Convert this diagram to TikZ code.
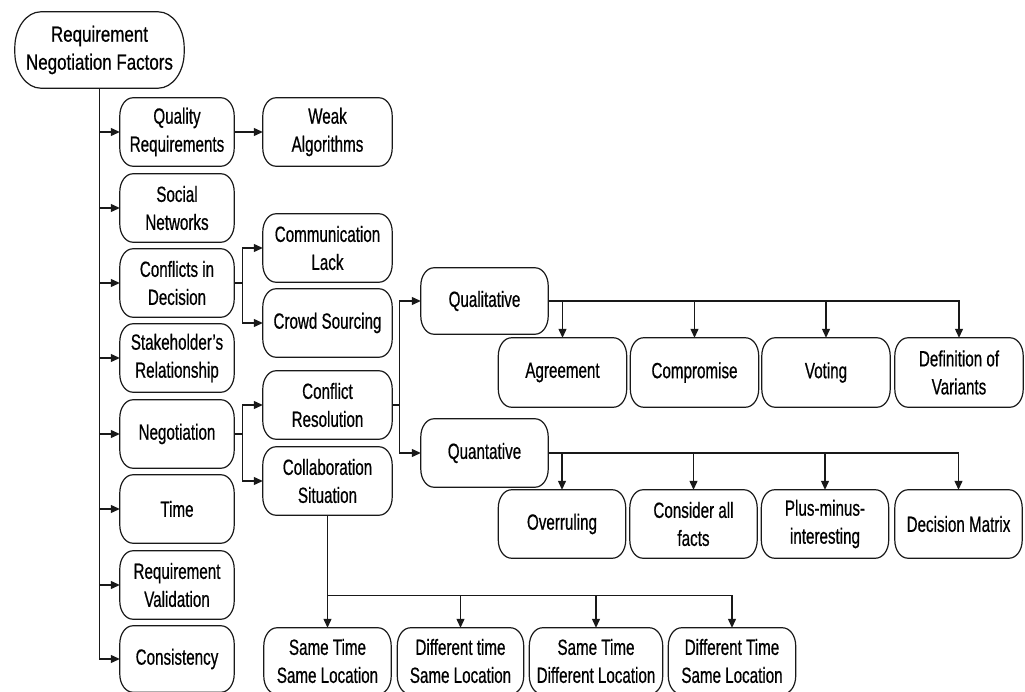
\documentclass[tikz,border=0pt]{standalone}
\usepackage{fontspec}
\setmainfont{Liberation Sans}[FakeStretch=0.69,FakeBold=0.6]
\newfontfamily\rootfont{Liberation Sans}[FakeStretch=0.77,FakeBold=0.6]
\usetikzlibrary{arrows.meta,calc}
\tikzset{
  boxtext/.style={inner sep=0pt, align=center, font=\fontsize{22}{28}\selectfont, text=black},
  outl/.style={draw=black!90, line width=1.2pt},
  conn/.style={draw=black!90, line width=1.2pt},
  arr/.style={conn, -{Triangle[length=9pt,width=8pt]}},
}
\newcommand\outline[3]{\draw[outl] ([xshift=#2]#1.north west) -- ([xshift=-#2]#1.north east)
  arc[start angle=90,end angle=0,x radius=#2,y radius=#3] -- ([yshift=#3]#1.south east)
  arc[start angle=0,end angle=-90,x radius=#2,y radius=#3] -- ([xshift=#2]#1.south west)
  arc[start angle=270,end angle=180,x radius=#2,y radius=#3] -- ([yshift=-#3]#1.north west)
  arc[start angle=180,end angle=90,x radius=#2,y radius=#3] -- cycle;}
\newcommand\mkbox[5]{\node[boxtext,minimum width=#3pt,minimum height=#4pt] (#1) at (#2) {#5};\outline{#1}{13pt}{18pt}}
\begin{document}
\begin{tikzpicture}[x=1pt,y=-1pt]
\useasboundingbox (0,0) rectangle (1025,692);
\clip (0,0) rectangle (1025,692);
% root
\node[boxtext,font=\rootfont\fontsize{22}{28}\selectfont,minimum width=169pt,minimum height=76pt] (root) at (99.5,50) {Requirement\\Negotiation Factors};
\outline{root}{26pt}{36pt}
% level 1
\mkbox{qr}{177,132}{114}{68}{Quality\\Requirements}
\mkbox{sn}{177,208}{114}{68}{Social\\Networks}
\mkbox{cd}{177,283}{114}{68}{Conflicts in\\Decision}
\mkbox{sr}{177,358}{114}{68}{Stakeholder's\\Relationship}
\mkbox{neg}{177,434}{114}{68}{Negotiation}
\mkbox{tim}{177,509}{114}{68}{Time}
\mkbox{rv}{177,585}{114}{68}{Requirement\\Validation}
\mkbox{cons}{177,659}{114}{66}{Consistency}
% level 2
\mkbox{wa}{327.5,132}{129}{68}{Weak\\Algorithms}
\mkbox{cl}{327.5,248}{129}{68}{Communication\\Lack}
\mkbox{cs}{327.5,323}{129}{68}{Crowd Sourcing}
\mkbox{cres}{327.5,405}{129}{68}{Conflict\\Resolution}
\mkbox{csit}{327.5,481}{129}{68}{Collaboration\\Situation}
% level 3
\mkbox{qual}{484.5,301}{127}{66}{Qualitative}
\mkbox{quant}{484.5,453}{127}{68}{Quantative}
% qualitative children
\mkbox{agr}{562.5,372.5}{128}{69}{Agreement}
\mkbox{comp}{694.5,372.5}{128}{69}{Compromise}
\mkbox{vot}{826,372.5}{128}{69}{Voting}
\mkbox{defv}{959,372.5}{128}{69}{Definition of\\Variants}
% quantative children
\mkbox{over}{562,524}{127}{68}{Overruling}
\mkbox{cfac}{693.5,524}{127}{68}{Consider all\\facts}
\mkbox{pmi}{825,524}{127}{68}{Plus-minus-\\interesting}
\mkbox{dmx}{958.5,524}{127}{68}{Decision Matrix}
% collaboration children
\mkbox{b1}{327.5,661}{127}{66}{Same Time\\Same Location}
\mkbox{b2}{460.5,661}{126}{66}{Different time\\Same Location}
\mkbox{b3}{596,661}{133}{66}{Same Time\\Different Location}
\mkbox{b4}{732,661}{127}{66}{Different Time\\Same Location}
% connectors
\draw[arr] (root.south) |- (cons.west);
\foreach \n in {qr,sn,cd,sr,neg,tim,rv} \draw[arr] (root.south |- \n.west) -- (\n.west);
\draw[arr] (qr.east) -- (wa.west);
\coordinate (jc) at ($(cd.east)+(8,0)$);
\draw[arr] (cd.east) -- (jc) |- (cl.west);
\draw[arr] (jc) |- (cs.west);
\coordinate (jn) at ($(neg.east)+(8,0)$);
\draw[arr] (neg.east) -- (jn) |- (cres.west);
\draw[arr] (jn) |- (csit.west);
\coordinate (jr) at ($(cres.east)+(7,0)$);
\draw[arr] (cres.east) -- (jr) |- (qual.west);
\draw[arr] (jr) |- (quant.west);
\draw[arr] (qual.east) -| (defv.north);
\foreach \n in {agr,comp,vot} \draw[arr] (qual.east -| \n.north) -- (\n.north);
\draw[arr] (quant.east) -| (dmx.north);
\foreach \n in {over,cfac,pmi} \draw[arr] (quant.east -| \n.north) -- (\n.north);
\coordinate (jb) at ($(b1.north)+(0,-32)$);
\draw[arr] (csit.south) -- (b1.north);
\draw[arr] (jb) -| (b4.north);
\foreach \n in {b2,b3} \draw[arr] (jb -| \n.north) -- (\n.north);
\end{tikzpicture}
\end{document}
